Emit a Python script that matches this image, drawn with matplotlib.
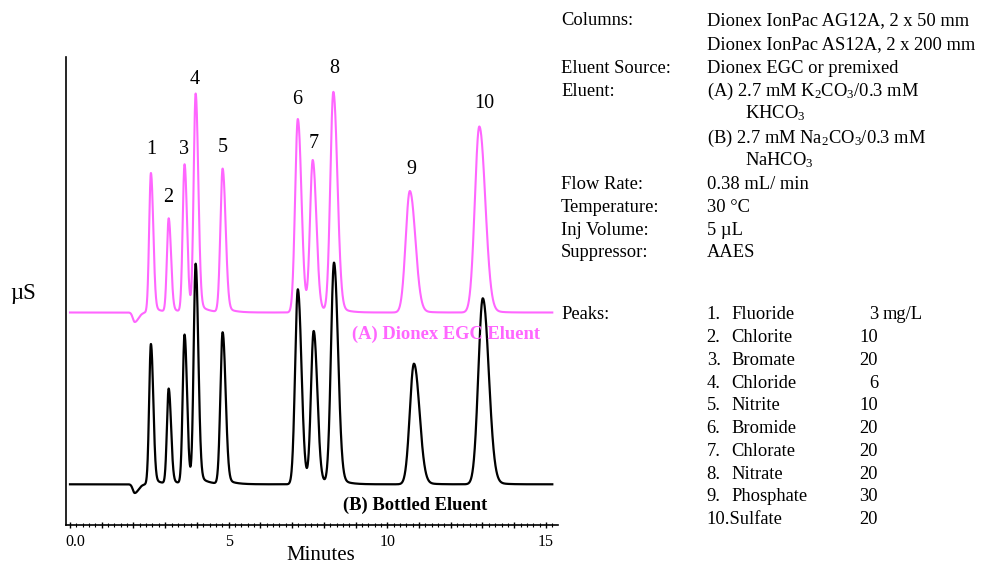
import numpy as np
import matplotlib
matplotlib.use("Agg")
import matplotlib.pyplot as plt
from matplotlib.ticker import MultipleLocator, FuncFormatter
import matplotlib.transforms as mtransforms

plt.rcParams['font.family'] = ['Liberation Serif', 'DejaVu Serif']
plt.rcParams['mathtext.fontset'] = 'custom'
plt.rcParams['mathtext.rm'] = 'Liberation Serif'
plt.rcParams['mathtext.it'] = 'Liberation Serif:italic'
plt.rcParams['mathtext.bf'] = 'Liberation Serif:bold'

# ---------------- data ----------------
peak_numbers = ["1", "2", "3", "4", "5", "6", "7", "8", "9", "10"]
# (A) Dionex EGC eluent
rt_A = [2.55, 3.11, 3.61, 3.96, 4.81, 7.18, 7.65, 8.30, 10.71, 12.90]
h_A = [139.5, 93.5, 147.5, 217.0, 143.5, 193.5, 151.0, 220.0, 121.5, 186.0]
# (B) Bottled eluent
rt_B = [2.55, 3.11, 3.61, 3.96, 4.81, 7.18, 7.68, 8.32, 10.84, 13.01]
h_B = [140.3, 95.0, 149.0, 218.6, 151.6, 195.0, 152.0, 221.0, 120.6, 186.0]
# peak widths (min)
sigma = [0.055, 0.055, 0.058, 0.062, 0.07, 0.085, 0.085, 0.095, 0.13, 0.14]
tail = 1.3
tail_amp = 0.05
tail_tau = 0.25
# water dip
dip_rt = 2.04
dip_depth_A = 9.5
dip_depth_B = 8.7
# baseline offsets of the two traces
offset_A = 212.5
offset_B = 40.7
run_end = 15.2

peak_names = ["Fluoride", "Chlorite", "Bromate", "Chloride", "Nitrite",
              "Bromide", "Chlorate", "Nitrate", "Phosphate", "Sulfate"]
peak_amounts = ["3", "10", "20", "6", "10", "20", "20", "20", "30", "20"]

cond_labels = ["Columns:", "", "Eluent Source:", "Eluent:", "", "", "",
               "Flow Rate:", "Temperature:", "Inj Volume:", "Suppressor:"]
cond_values = ["Dionex IonPac AG12A, 2 x 50 mm",
               "Dionex IonPac AS12A, 2 x 200 mm",
               "Dionex EGC or premixed",
               "(A) 2.7 mM K$_{2}$CO$_{3}$/0.3 mM",
               "KHCO$_{3}$",
               "(B) 2.7 mM Na$_{2}$CO$_{3}$/0.3 mM",
               "NaHCO$_{3}$",
               "0.38 mL/ min",
               "30 \u00b0C",
               "5 \u00b5L",
               "AAES"]

# label offsets (pixels above apex) for peak numbers
label_dy = [24, 21, 15, 16, 21, 19, 18, 24, 22, 23]
label_dx = [0, -0.5, -0.5, -0.5, 0.5, -0.5, 0.5, 0.5, 2, 5]


def peak(t, rt, h, s):
    ss = np.where(t < rt, s, s * tail)
    g = h * np.exp(-0.5 * ((t - rt) / ss) ** 2)
    d = np.clip(t - rt, 0, None)
    tl = h * tail_amp * (1 - np.exp(-(d / s) ** 2)) * np.exp(-d / tail_tau)
    return g + tl


def trace(t, rts, hs, dip_depth):
    y = np.zeros_like(t)
    for rt, h, s in zip(rts, hs, sigma):
        y += peak(t, rt, h, s)
    ss = np.where(t < dip_rt, 0.06, 0.12)
    y -= dip_depth * np.exp(-0.5 * ((t - dip_rt) / ss) ** 2)
    return y


W, H = 981, 569
fig = plt.figure(figsize=(W / 100, H / 100), dpi=100)

ax_l, ax_r, ax_t, ax_b = 66, 558, 57, 525
ax = fig.add_axes([ax_l / W, 1 - ax_b / H, (ax_r - ax_l) / W, (ax_b - ax_t) / H])
ax.set_xlim(-0.126, 15.38)
ax.set_ylim(0, ax_b - ax_t)

t = np.linspace(0, run_end, 4000)
yA = trace(t, rt_A, h_A, dip_depth_A) + offset_A
yB = trace(t, rt_B, h_B, dip_depth_B) + offset_B
pink = "#ff66ff"
ax.plot(t, yA, color=pink, lw=1.5, solid_joinstyle='round')
ax.plot(t, yB, color="black", lw=1.6, solid_joinstyle='round')

for i, lab in enumerate(peak_numbers):
    ax.annotate(lab, xy=(rt_A[i], h_A[i] + offset_A), xytext=(label_dx[i] * 0.72, label_dy[i] * 0.72),
                textcoords='offset points', ha='center', va='center', fontsize=14.5)

for s in ['top', 'right']:
    ax.spines[s].set_visible(False)
ax.spines['left'].set_linewidth(1.2)
ax.spines['bottom'].set_linewidth(1.2)
ax.set_yticks([])
ax.xaxis.set_major_locator(MultipleLocator(1))
ax.xaxis.set_minor_locator(MultipleLocator(0.2))
ax.xaxis.set_major_formatter(FuncFormatter(
    lambda v, p: ("0.0" if abs(v) < 1e-9 else "%d" % round(v)) if abs(v / 5 - round(v / 5)) < 1e-6 else ""))
ax.tick_params(axis='x', which='major', direction='inout', length=5, width=1, labelsize=11.5, pad=4)
ax.tick_params(axis='x', which='minor', direction='inout', length=2.5, width=0.8)
fig.canvas.draw()
for lab in ax.get_xticklabels():
    if lab.get_text() == "0.0":
        lab.set_transform(lab.get_transform() + mtransforms.ScaledTranslation(5.5 / 100, 0, fig.dpi_scale_trans))

fig.text(321 / W, 1 - 555 / H, "Minutes", fontsize=15, ha='center', va='center')
fig.text(23 / W, 1 - 294 / H, "\u00b5S", fontsize=16.5, ha='center', va='center')

ax.text((352 - 70) / 31.73, ax_b - 339, "(A) Dionex EGC Eluent", color=pink,
        fontweight='bold', fontsize=13.3, ha='left', va='baseline')
ax.text((343 - 70) / 31.73, ax_b - 510, "(B) Bottled Eluent", color="black",
        fontweight='bold', fontsize=13.3, ha='left', va='baseline')


def ftxt(x, y, s, **kw):
    fig.text(x / W, 1 - y / H, s, fontsize=13.3, va='baseline', **kw)


cond_base = [25, 49.3, 72.7, 96, 118.3, 142.7, 165, 189.3, 211.7, 235, 257.3]
for i, (lab, val) in enumerate(zip(cond_labels, cond_values)):
    if lab:
        ftxt(561, cond_base[i], lab)
    xv = 745 if i in (4, 6) else 707
    ftxt(xv, cond_base[i], val)

peak_base = [319.3 + 22.75 * i for i in range(10)]
ftxt(561.5, peak_base[0], "Peaks:")
for i, (nm, am) in enumerate(zip(peak_names, peak_amounts)):
    if i < 9:
        ftxt(706.7, peak_base[i], "%d." % (i + 1))
        ftxt(731, peak_base[i], nm)
    else:
        ftxt(706.7, peak_base[i], "%d.%s" % (i + 1, nm))
    ftxt(878, peak_base[i], am, ha='right')
ftxt(883, peak_base[0], "mg/L")

fig.savefig("out.png", dpi=100)
